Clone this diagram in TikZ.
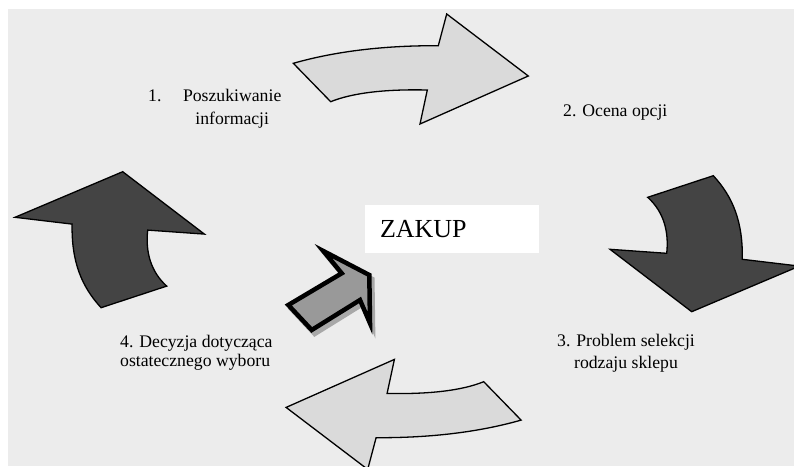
\documentclass[tikz,border=0pt]{standalone}
\usepackage{fontspec}
\setmainfont{Liberation Serif}
\usepackage{tikz}
\usetikzlibrary{positioning}
\definecolor{bgfill}{HTML}{ECECEC}
\definecolor{lightfill}{HTML}{DADADA}
\definecolor{darkfill}{HTML}{444444}
\definecolor{midfill}{HTML}{999999}
\definecolor{shadowfill}{HTML}{A8A8A8}

\begin{document}
\begin{tikzpicture}[x=1pt,y=-1pt,
		bigarrow/.style={draw=black, line width=1.3pt, line join=miter},
		lightarrow/.style={bigarrow, fill=lightfill},
		darkarrow/.style={bigarrow, fill=darkfill},
		stepnote/.style={font=\fontsize{17.7}{19}\selectfont, inner sep=0pt}]
				\useasboundingbox (0,0) rectangle (794,466);
				\clip (0,0) rectangle (794,466);
				\fill[bgfill] (8,9) rectangle (794,466);
				\path[lightarrow] (293.3,63.3) .. controls (340,50) and (390,45.5) .. (438.3,45.7) -- (446.7,14) -- (528.3,76) -- (420,124) -- (427.3,90) .. controls (385,89) and (352,93) .. (330.7,101.7) -- cycle;
				\path[lightarrow] (521.1,420.1) .. controls (474.4,433.4) and (424.4,437.9) .. (376.1,437.7) -- (367.7,469.4) -- (286.1,407.4) -- (394.4,359.4) -- (387.1,393.4) .. controls (429.4,394.4) and (462.4,390.4) .. (483.7,381.7) -- cycle;
				\path[darkarrow] (647.7,197.3) -- (713.3,175.7) .. controls (733,197) and (743,222) .. (742.3,259.3) -- (799.4,266.1) -- (691.7,311.7) -- (610,249.3) -- (666.7,253.3) .. controls (669,232) and (664,212) .. (647.7,197.3) -- cycle;
				\path[darkarrow] (166.7,286.1) -- (101.1,307.7) .. controls (81.4,286.4) and (71.4,261.4) .. (72.1,224.1) -- (15,217.3) -- (122.7,171.7) -- (204.4,234.1) -- (147.7,230.1) .. controls (145.4,251.4) and (150.4,271.4) .. (166.7,286.1) -- cycle;
				\path[draw=shadowfill, fill=shadowfill, line width=4.5pt, line join=miter, shift={(3,4)}] (369.3,275) -- (323.3,251) -- (341.7,273.3) -- (288.3,305) -- (311.7,330) -- (360,300) -- (370,323.3) -- cycle;
				\path[draw=black, fill=midfill, line width=4.5pt, line join=miter] (369.3,275) -- (323.3,251) -- (341.7,273.3) -- (288.3,305) -- (311.7,330) -- (360,300) -- (370,323.3) -- cycle;
				\node[fill=white, minimum height=48pt, text width=144pt, inner xsep=15pt, inner ysep=0pt, align=left, font=\fontsize{26}{30}\selectfont] (zakup) at (452,229) {ZAKUP};
				\node[stepnote, anchor=base west] (n1) at (148,101.7) {1.};
				\node[stepnote, anchor=base, align=center, font=\fontsize{17.7}{23}\selectfont] (search) at (232.2,124.7) {Poszukiwanie\\informacji};
				\node[stepnote, anchor=base west] (options) at (563,116) {2. Ocena opcji};
				\node[stepnote, anchor=base, align=center, font=\fontsize{17.7}{22}\selectfont] (shop) at (626,368) {3. Problem selekcji\\rodzaju sklepu};
				\node[stepnote, anchor=base west, align=left] (choice) at (120,366) {4. Decyzja dotycząca\\ostatecznego wyboru};
			\end{tikzpicture}
\end{document}
